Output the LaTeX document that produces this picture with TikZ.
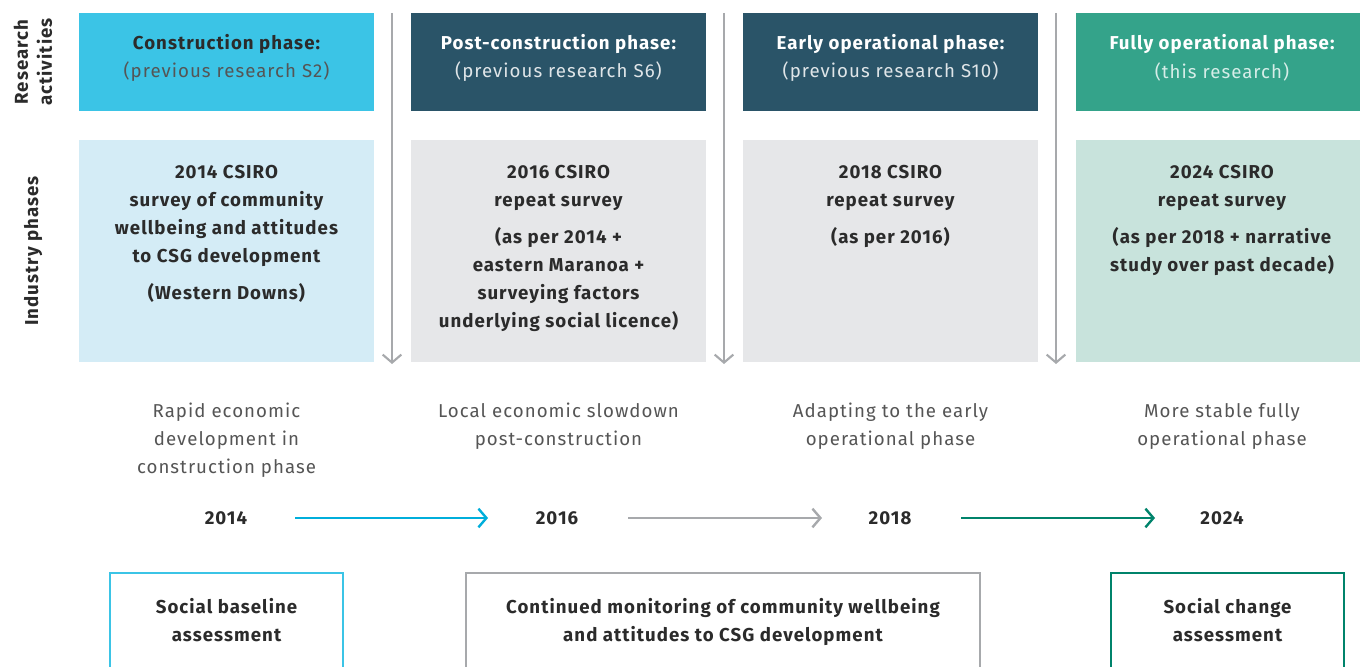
\documentclass[tikz,border=0pt]{standalone}
\usepackage{fontspec}
\setmainfont{Fira Sans}[LetterSpace=5.5]
\usetikzlibrary{arrows.meta}
\definecolor{cyanbox}{HTML}{3BC4E6}
\definecolor{darkbox}{HTML}{2A5468}
\definecolor{tealbox}{HTML}{34A38A}
\definecolor{lightblue}{HTML}{D4ECF6}
\definecolor{lightgray}{HTML}{E6E7E9}
\definecolor{lightteal}{HTML}{C8E3DC}
\definecolor{arrcyan}{HTML}{00AEDB}
\definecolor{arrgray}{HTML}{A7A9AC}
\definecolor{arrteal}{HTML}{00836B}
\definecolor{txtdark}{HTML}{2B2B2B}
\definecolor{txtgray}{HTML}{555555}
\tikzset{
  fnt/.style={font=\fontsize{14}{21}\selectfont},
  bfnt/.style={font=\fontsize{14}{21}\selectfont\bfseries},
  vline/.style={arrgray, line width=1.6pt, -{Straight Barb[length=6pt,width=14pt,line width=1.6pt]}},
  harr/.style={line width=1.8pt, -{Straight Barb[length=6pt,width=14pt,line width=1.8pt]}},
  btmbox/.style={line width=1.8pt},
}
\begin{document}
\begin{tikzpicture}[x=0.75pt,y=-0.75pt]
\useasboundingbox (0,0) rectangle (1360,667);
\begin{scope}
\clip (0,0) rectangle (1360,667);
% side labels
\node[font=\fontsize{14}{18}\selectfont\bfseries, text=txtdark, rotate=90, align=center] (lblR) at (33,62) {Research\\activities};
\node[font=\fontsize{14}{18}\selectfont\bfseries, text=txtdark, rotate=90] (lblI) at (33,251) {Industry phases};
% top row boxes
\fill[cyanbox] (79,13) rectangle (374,111);
\fill[darkbox] (411,13) rectangle (706,111);
\fill[darkbox] (743,13) rectangle (1038,111);
\fill[tealbox] (1076,13) rectangle (1371,111);
\node[bfnt, text=txtdark] (t1a) at (226.5,44) {Construction phase:};
\node[fnt, text=txtgray] (t1b) at (226.5,72) {(previous research S2)};
\node[bfnt, text=white] (t2a) at (558.5,44) {Post-construction phase:};
\node[fnt, text=white!85!darkbox] (t2b) at (558.5,72) {(previous research S6)};
\node[bfnt, text=white] (t3a) at (890.5,44) {Early operational phase:};
\node[fnt, text=white!85!darkbox] (t3b) at (890.5,72) {(previous research S10)};
\node[bfnt, text=white] (t4a) at (1222,44) {Fully operational phase:};
\node[fnt, text=white!80!tealbox] (t4b) at (1222,72) {(this research)};
% second row boxes
\fill[lightblue] (79,140) rectangle (374,362);
\fill[lightgray] (411,140) rectangle (706,362);
\fill[lightgray] (743,140) rectangle (1038,362);
\fill[lightteal] (1076,140) rectangle (1371,362);
\tikzset{bt/.style={bfnt, text=txtdark, align=center, anchor=north, inner sep=0pt}}
\node[bt] (s1) at (226.5,165) {2014 CSIRO\\survey of community\\wellbeing and attitudes\\to CSG development\\[7pt](Western Downs)};
\node[bt] (s2) at (558.5,165) {2016 CSIRO\\repeat survey\\[7pt](as per 2014 +\\eastern Maranoa +\\surveying factors\\underlying social licence)};
\node[bt] (s3) at (890.5,165) {2018 CSIRO\\repeat survey\\[7pt](as per 2016)};
\node[bt] (s4) at (1222,165) {2024 CSIRO\\repeat survey\\[7pt](as per 2018 + narrative\\study over past decade)};
% vertical arrows
\coordinate (v1a) at (392,13); \coordinate (v1b) at (392,364);
\coordinate (v2a) at (724,13); \coordinate (v2b) at (724,364);
\coordinate (v3a) at (1056,13); \coordinate (v3b) at (1056,364);
\draw[vline] (v1a) -- (v1b);
\draw[vline] (v2a) -- (v2b);
\draw[vline] (v3a) -- (v3b);
% descriptions
\tikzset{dt/.style={fnt, text=txtgray, align=center, anchor=north, inner sep=0pt}}
\node[dt] (d1) at (226.5,403) {Rapid economic\\development in\\construction phase};
\node[dt] (d2) at (558.5,403) {Local economic slowdown\\post-construction};
\node[dt] (d3) at (890.5,403) {Adapting to the early\\operational phase};
\node[dt] (d4) at (1222,403) {More stable fully\\operational phase};
% years
\tikzset{yr/.style={bfnt, text=txtdark}}
\node[yr] (y1) at (226,518) {2014};
\node[yr] (y2) at (557,518) {2016};
\node[yr] (y3) at (890,518) {2018};
\node[yr] (y4) at (1222,518) {2024};
\coordinate (a1s) at (295,518); \coordinate (a1e) at (488,518);
\coordinate (a2s) at (628,518); \coordinate (a2e) at (822,518);
\coordinate (a3s) at (961,518); \coordinate (a3e) at (1155,518);
\draw[harr, arrcyan] (a1s) -- (a1e);
\draw[harr, arrgray] (a2s) -- (a2e);
\draw[harr, arrteal] (a3s) -- (a3e);
% bottom boxes
\draw[btmbox, cyanbox] (110,690) -- (110,573) -- (343,573) -- (343,690);
\draw[btmbox, arrgray] (466,690) -- (466,573) -- (980,573) -- (980,690);
\draw[btmbox, arrteal] (1111,690) -- (1111,573) -- (1344,573) -- (1344,690);
\tikzset{bb/.style={bfnt, text=txtdark, align=center, anchor=north, inner sep=0pt}}
\node[bb] (b1) at (226.5,598) {Social baseline\\assessment};
\node[bb] (b2) at (723,598) {Continued monitoring of community wellbeing\\and attitudes to CSG development};
\node[bb] (b3) at (1227.5,598) {Social change\\assessment};
\end{scope}
\end{tikzpicture}
\end{document}
